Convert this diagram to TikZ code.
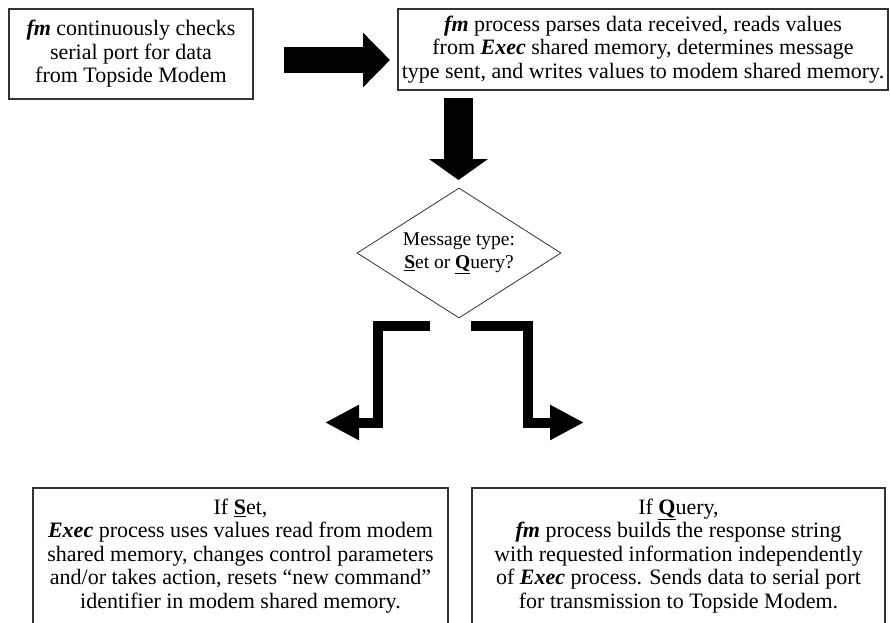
\documentclass[tikz,border=0pt]{standalone}
\usepackage{fontspec}
\setmainfont{Liberation Serif}
\usetikzlibrary{arrows.meta,shapes.geometric}
\begin{document}
\begin{tikzpicture}[x=1pt,y=-1pt,
  box/.style={draw=black!80, line width=1.2pt, rectangle, align=center, inner sep=0pt,
    font=\fontsize{22}{23.5}\selectfont},
  decision/.style={draw=black!80, line width=0.8pt, diamond, aspect=1.57, inner sep=0pt,
    align=center, minimum width=204pt, minimum height=130pt, font=\fontsize{19.5}{23.5}\selectfont},
  bigarrow/.style={line width=26pt, -{Triangle[length=27pt,width=53pt]}},
  downarrow/.style={line width=29pt, -{Triangle[length=21pt,width=58pt]}},
  elbowarrow/.style={line width=10pt, line join=miter, -{Triangle[length=34pt,width=33pt]}}
]
\fill[white] (0,0) rectangle (890,622);
\clip (0,0) rectangle (890,622);
\useasboundingbox (0,0) rectangle (890,622);

\node[box, minimum width=244pt, minimum height=90pt] (check) at (131,54)
  {\textbf{\textit{fm}} continuously checks\\serial port for data\\from Topside Modem};
\node[box, minimum width=490pt, minimum height=81pt] (parse) at (643,49.5)
  {\textbf{\textit{fm}} process parses data received, reads values\\from \textbf{\textit{Exec}} shared memory, determines message\\type sent, and writes values to modem shared memory.};
\node[decision] (dec) at (459,253)
  {Message type:\\\underline{\textbf{S}}et or \underline{\textbf{Q}}uery?};
\node[box, minimum width=415pt, minimum height=136pt] (setbox) at (240.5,556)
  {If \underline{\textbf{S}}et,\\\textbf{\textit{Exec}} process uses values read from modem\\shared memory, changes control parameters\\and/or takes action, resets “new command”\\identifier in modem shared memory.};
\node[box, minimum width=413pt, minimum height=136pt] (query) at (678.5,556)
  {If \underline{\textbf{Q}}uery,\\\textbf{\textit{fm}} process builds the response string\\with requested information independently\\of \textbf{\textit{Exec}} process. Sends data to serial port\\for transmission to Topside Modem.};

\coordinate (r1) at (284,60);
\coordinate (r2) at (390,60);
\draw[bigarrow] (r1) -- (r2);

\coordinate (d1) at (458.5,98);
\coordinate (d2) at (458.5,180);
\draw[downarrow] (d1) -- (d2);

\coordinate (l1) at (430,326);
\coordinate (l2) at (325,422.5);
\draw[elbowarrow] (l1) -- (378,326) -- (378,422.5) -- (l2);

\coordinate (q1) at (471,326);
\coordinate (q2) at (584,422.5);
\draw[elbowarrow] (q1) -- (528,326) -- (528,422.5) -- (q2);
\end{tikzpicture}
\end{document}
